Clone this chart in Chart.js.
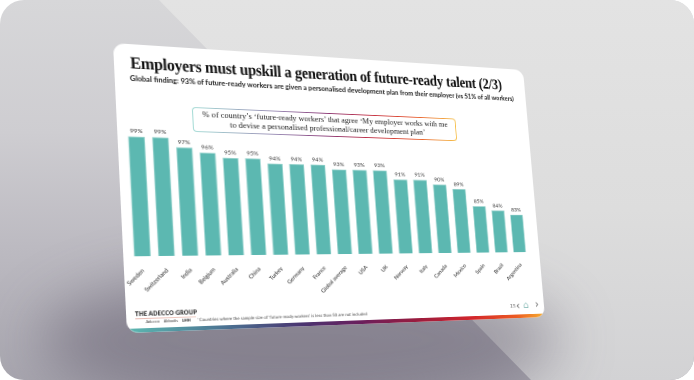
<!DOCTYPE html>
<html><head><meta charset="utf-8">
<script src="https://cdn.jsdelivr.net/npm/chart.js@4.4.1/dist/chart.umd.min.js"></script>
<style>
html,body{margin:0;padding:0;background:#fff;}
#frame{position:relative;width:694px;height:380px;border-radius:24px;overflow:hidden;
  background:linear-gradient(180deg,#d7d7d9 0%,#cecdd1 35%,#bcbac1 65%,#a8a6af 100%);}
#bgLight{position:absolute;left:0;top:0;width:694px;height:380px;
  clip-path:polygon(159px 0,694px 0,694px 380px,531px 380px);
  background:linear-gradient(180deg,#e3e3e3 0%,#dddddd 55%,#d2d2d4 100%);}
#shadow{position:absolute;left:40px;top:270px;width:520px;height:140px;background:rgba(70,64,84,0.38);filter:blur(28px);border-radius:50%;}
#slide{position:absolute;left:0;top:0;width:440px;height:290px;background:#fff;border-radius:11px;overflow:hidden;transform-origin:0 0;}
.abs{position:absolute;white-space:nowrap;transform-origin:0 0;line-height:1;}
#title{font-family:'Liberation Serif',serif;font-weight:700;font-size:17.5px;color:#111;letter-spacing:-0.3px;}
#subtitle{font-family:'Lato','Open Sans',sans-serif;font-weight:700;font-size:6.6px;color:#222;}
#legendBox{position:absolute;border-radius:4px;padding:1px;box-sizing:border-box;
  background:linear-gradient(90deg,#a6dcd6 0%,#9a8bb4 30%,#8a3a78 48%,#c23045 65%,#e6542e 82%,#f6c04a 100%);}
#legendInner{width:100%;height:100%;background:#fff;border-radius:3px;display:flex;flex-direction:column;justify-content:center;align-items:center;
  font-family:'Liberation Serif',serif;font-size:8.3px;color:#222;line-height:1.2;text-align:center;}
#chartWrap{position:absolute;left:0;}
#brand{font-family:'Lato','Open Sans',sans-serif;font-weight:800;font-size:6.5px;color:#333;letter-spacing:0.1px;}
#brandLine{position:absolute;height:1px;background:linear-gradient(90deg,#e8b8b0,#f0d0c8);}
#brands{font-family:'Lato','Open Sans',sans-serif;font-size:3.8px;color:#444;}
#brands b{font-weight:900;color:#222;}
#footnote{font-family:'Lato','Open Sans',sans-serif;font-size:4.4px;color:#444;}
.nav{font-family:'DejaVu Sans',sans-serif;color:#666;}
#strip{position:absolute;left:0;bottom:0;width:440px;height:4px;
  background:linear-gradient(90deg,#5cb8b1 0%,#4b6e90 22%,#4a3470 38%,#6a1f5c 52%,#9a1c3e 66%,#d2262c 80%,#ec5a22 92%,#f6b030 100%);}
</style></head>
<body>
<div id="frame">
  <div id="bgLight"></div>
  <div id="shadow"></div>
  <div id="slide">
    <div id="title" class="abs">Employers must upskill a generation of future-ready talent (2/3)</div>
    <div id="subtitle" class="abs">Global finding: 93% of future-ready workers are given a personalised development plan from their employer (vs 51% of all workers)</div>
    <div id="legendBox"><div id="legendInner"><div>% of country’s ‘future-ready workers’ that agree ‘My employer works with me</div><div>to devise a personalised professional/career development plan’</div></div></div>
    <div id="chartWrap"><canvas id="c"></canvas></div>
    <div id="brand" class="abs">THE ADECCO GROUP</div>
    <div id="brandLine"></div>
    <div id="brands" class="abs">Adecco&nbsp;&nbsp;&nbsp;&nbsp;Akkodis&nbsp;&nbsp;&nbsp;&nbsp;<b>LHH</b></div>
    <div id="footnote" class="abs">*Countries where the sample size of ‘future-ready workers’ is less than 50 are not included</div>
    <div id="nav15" class="abs nav" style="font-size:5.5px">15</div>
    <div id="navL" class="abs nav" style="font-size:12px">‹</div>
    <div id="navH" class="abs nav" style="font-size:11px;color:#8fbfbb">⌂</div>
    <div id="navR" class="abs nav" style="font-size:12px">›</div>
    <div id="strip"></div>
  </div>
</div>
<script>
// ---- data ----
const categories = ['Sweden','Switzerland','India','Belgium','Australia','China','Turkey','Germany','France','Global average','USA','UK','Norway','Italy','Canada','Mexico','Spain','Brazil','Argentina'];
const values = [99,99,97,96,95,95,94,94,94,93,93,93,91,91,90,89,85,84,83];
const valueLabels = values.map(v => v + '%');
const yMin = 74, yMax = 100;

// ---- perspective helpers ----
function solve(A, b){
  const n = b.length; const M = A.map((r,i)=>r.concat([b[i]]));
  for(let i=0;i<n;i++){
    let p=i; for(let k=i+1;k<n;k++) if(Math.abs(M[k][i])>Math.abs(M[p][i])) p=k;
    [M[i],M[p]]=[M[p],M[i]];
    for(let k=0;k<n;k++){ if(k===i) continue; const f=M[k][i]/M[i][i]; for(let j=i;j<=n;j++) M[k][j]-=f*M[i][j]; }
  }
  return M.map((r,i)=>r[n]/r[i]);
}
function homog(src,dst){
  const A=[],b=[];
  for(let i=0;i<4;i++){ const [x,y]=src[i],[X,Y]=dst[i];
    A.push([x,y,1,0,0,0,-x*X,-y*X]); b.push(X);
    A.push([0,0,0,x,y,1,-x*Y,-y*Y]); b.push(Y); }
  return solve(A,b);
}
function apply(h,x,y){ const w=h[6]*x+h[7]*y+1; return [(h[0]*x+h[1]*y+h[2])/w,(h[3]*x+h[4]*y+h[5])/w]; }

const W=440, H=290;
const quad=[[113,43],[523,70],[545,317],[127,333]];
const rect=[[0,0],[W,0],[W,H],[0,H]];
const Hf=homog(rect,quad), Hi=homog(quad,rect);
const S=(x,y)=>apply(Hi,x,y);
document.getElementById('slide').style.transform =
  `matrix3d(${Hf[0]},${Hf[3]},0,${Hf[6]},${Hf[1]},${Hf[4]},0,${Hf[7]},0,0,1,0,${Hf[2]},${Hf[5]},0,1)`;

function place(id, sx, sy, ex, ey){
  const el=document.getElementById(id);
  const p=S(sx,sy);
  el.style.left=p[0]+'px'; el.style.top=(p[1]-el.offsetHeight/2)+'px';
  if(ex!==undefined){ const q=S(ex,ey); el.style.transform=`scaleX(${(q[0]-p[0])/el.scrollWidth})`; }
  return p;
}
place('title',130,63,501,83);
place('subtitle',130,78,514,100);
place('brand',135,315,197,313);
place('brands',146,322.5);
place('footnote',197,320,367,315);
place('nav15',510,307); place('navL',516,305.5); place('navH',523,305); place('navR',535,304.5);
{ const a=S(135,318.5), b=S(196,316.5); const l=document.getElementById('brandLine');
  l.style.left=a[0]+'px'; l.style.top=a[1]+'px'; l.style.width=(b[0]-a[0])+'px'; }
{ const tl=S(192,107), bl=S(193,130), tr=S(455,118), br=S(455,142);
  const lb=document.getElementById('legendBox');
  lb.style.left=tl[0]+'px'; lb.style.top=((tl[1]+tr[1])/2)+'px';
  lb.style.width=(tr[0]-tl[0])+'px'; lb.style.height=(((bl[1]-tl[1])+(br[1]-tr[1]))/2)+'px'; }

// ---- chart geometry from the reference bars ----
const bL=S(133,257), bR=S(526,252), t99=S(141,137);
const bottom=(bL[1]+bR[1])/2;
const frac=0.7;
const cw=(bR[0]-bL[0])/(18+frac);
const pl=bL[0]-cw*(1-frac)/2, pr=pl+19*cw;
const plotTop=bottom-(bottom-t99[1])*(yMax-yMin)/(99-yMin);
const padTop=14, axisH=46;
const ct=plotTop-padTop, ch=bottom-ct+axisH;
const wrap=document.getElementById('chartWrap');
wrap.style.top=ct+'px'; wrap.style.width=W+'px'; wrap.style.height=ch+'px';
const cv=document.getElementById('c'); cv.style.width=W+'px'; cv.style.height=ch+'px';

const labelPlugin={ id:'valueLabels', afterDatasetsDraw(chart){
  const ctx=chart.ctx, meta=chart.getDatasetMeta(0);
  ctx.save(); ctx.font='6px Lato, sans-serif'; ctx.fillStyle='#333'; ctx.textAlign='center'; ctx.textBaseline='bottom';
  meta.data.forEach((bar,i)=>ctx.fillText(valueLabels[i], bar.x, bar.y-2.5));
  ctx.restore(); } };

new Chart(cv,{
  type:'bar',
  data:{ labels:categories, datasets:[{ data:values, backgroundColor:'#5cb8b1', borderColor:'#93d1cb', borderWidth:0.8,
    categoryPercentage:1, barPercentage:frac }]},
  options:{ responsive:false, animation:false, devicePixelRatio:2,
    layout:{ padding:{ left:pl, right:W-pr, top:padTop, bottom:0 } },
    plugins:{ legend:{display:false}, tooltip:{enabled:false} },
    scales:{
      x:{ grid:{display:false}, border:{display:false},
          ticks:{ font:{size:5.8, family:'Lato, sans-serif'}, color:'#222', minRotation:45, maxRotation:45, padding:3, autoSkip:false },
          afterFit(s){ s.height=axisH; } },
      y:{ display:false, min:yMin, max:yMax }
    } },
  plugins:[labelPlugin]
});
</script>
</body></html>
